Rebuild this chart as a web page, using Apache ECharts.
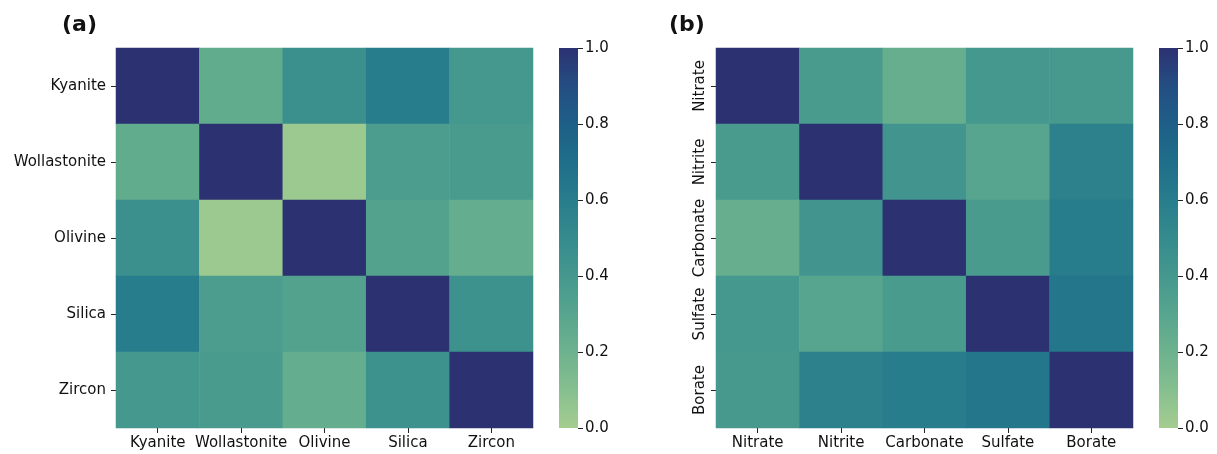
<!DOCTYPE html>
<html>
<head>
<meta charset="utf-8">
<script src="https://cdn.jsdelivr.net/npm/echarts@6/dist/echarts.min.js"></script>
<style>
  html, body { margin: 0; padding: 0; background: #ffffff; }
  #chart { width: 1217px; height: 454px; }
</style>
</head>
<body>
<div id="chart"></div>
<script>
// Panel (a): minerals correlation matrix
const mineralLabels = ['Kyanite', 'Wollastonite', 'Olivine', 'Silica', 'Zircon'];
const mineralMatrix = [
  [1.00, 0.25, 0.46, 0.60, 0.40],
  [0.25, 1.00, 0.03, 0.36, 0.38],
  [0.46, 0.03, 1.00, 0.32, 0.24],
  [0.60, 0.36, 0.32, 1.00, 0.45],
  [0.40, 0.38, 0.24, 0.45, 1.00]
];

// Panel (b): anions correlation matrix
const anionLabels = ['Nitrate', 'Nitrite', 'Carbonate', 'Sulfate', 'Borate'];
const anionMatrix = [
  [1.00, 0.38, 0.23, 0.40, 0.39],
  [0.38, 1.00, 0.42, 0.30, 0.57],
  [0.23, 0.42, 1.00, 0.38, 0.60],
  [0.40, 0.30, 0.38, 1.00, 0.65],
  [0.39, 0.57, 0.60, 0.65, 1.00]
];

// Colour bar ticks
const colorbarTicks = [0.0, 0.2, 0.4, 0.6, 0.8, 1.0];

// "crest" style ramp, light green (0) to navy (1)
const crestColors = [
  '#a5cd90', '#86bf8f', '#6db28e', '#57a58e', '#45988e', '#358b8d',
  '#287d8c', '#1f6e8a', '#1e5f87', '#244e83', '#2c3172'
];

function toCells(matrix) {
  const cells = [];
  matrix.forEach((row, r) => row.forEach((v, c) => cells.push([c, r, v])));
  return cells;
}

const FONT = 'DejaVu Sans';
const TXT = '#111111';
const FS = 15;

// vertical gradient for the colour bars: navy on top, light green at bottom
function barGradient() {
  const top = crestColors.slice().reverse();
  return new echarts.graphic.LinearGradient(0, 0, 0, 1,
    top.map((c, i) => ({ offset: i / (top.length - 1), color: c })));
}

function heatAxes(labels, gridIndex, rotateY) {
  return {
    x: {
      type: 'category', gridIndex, data: labels, position: 'bottom',
      axisLine: { show: false },
      axisTick: { show: true, alignWithLabel: true, length: 5, lineStyle: { color: '#222', width: 1 } },
      axisLabel: { color: TXT, fontFamily: FONT, fontSize: FS, margin: 8, interval: 0 },
      splitLine: { show: false }
    },
    y: {
      type: 'category', gridIndex, data: labels, inverse: true,
      axisLine: { show: false },
      axisTick: { show: true, alignWithLabel: true, length: 5, lineStyle: { color: '#222', width: 1 } },
      axisLabel: rotateY
        ? { color: TXT, fontFamily: FONT, fontSize: FS, margin: 8, rotate: 90, interval: 0, align: 'center', verticalAlign: 'bottom' }
        : { color: TXT, fontFamily: FONT, fontSize: FS, margin: 10, interval: 0 },
      splitLine: { show: false }
    }
  };
}

function barAxes(gridIndex) {
  return {
    x: { type: 'category', gridIndex, data: [''], show: false },
    y: {
      type: 'value', gridIndex, min: 0, max: 1, interval: 0.2, position: 'right',
      axisLine: { show: false },
      axisTick: { show: true, length: 5, lineStyle: { color: '#222', width: 1 } },
      axisLabel: { color: TXT, fontFamily: FONT, fontSize: FS, margin: 7,
        formatter: v => colorbarTicks.find(t => Math.abs(t - v) < 1e-9).toFixed(1) },
      splitLine: { show: false }
    }
  };
}

const a = heatAxes(mineralLabels, 0, false);
const b = heatAxes(anionLabels, 1, true);
const ca = barAxes(2);
const cb = barAxes(3);

const chart = echarts.init(document.getElementById('chart'), null, { renderer: 'canvas' });
chart.setOption({
  backgroundColor: '#ffffff',
  animation: false,
  title: [
    { text: '(a)', left: 57, top: 9, textStyle: { fontFamily: FONT, fontWeight: 'bold', fontSize: 22, color: '#111' } },
    { text: '(b)', left: 664, top: 9, textStyle: { fontFamily: FONT, fontWeight: 'bold', fontSize: 22, color: '#111' } }
  ],
  grid: [
    { left: 116, top: 48, width: 417, height: 380 },
    { left: 716, top: 48, width: 417, height: 380 },
    { left: 559, top: 48, width: 19, height: 380 },
    { left: 1159, top: 48, width: 19, height: 380 }
  ],
  xAxis: [a.x, b.x, ca.x, cb.x],
  yAxis: [a.y, b.y, ca.y, cb.y],
  visualMap: {
    type: 'continuous', show: false, min: 0, max: 1,
    seriesIndex: [0, 1],
    inRange: { color: crestColors }
  },
  series: [
    { type: 'heatmap', xAxisIndex: 0, yAxisIndex: 0, data: toCells(mineralMatrix), itemStyle: { borderWidth: 0 } },
    { type: 'heatmap', xAxisIndex: 1, yAxisIndex: 1, data: toCells(anionMatrix), itemStyle: { borderWidth: 0 } },
    { type: 'bar', xAxisIndex: 2, yAxisIndex: 2, data: [colorbarTicks[colorbarTicks.length - 1]], barWidth: '100%', silent: true,
      itemStyle: { color: barGradient() } },
    { type: 'bar', xAxisIndex: 3, yAxisIndex: 3, data: [colorbarTicks[colorbarTicks.length - 1]], barWidth: '100%', silent: true,
      itemStyle: { color: barGradient() } }
  ]
});
</script>
</body>
</html>
